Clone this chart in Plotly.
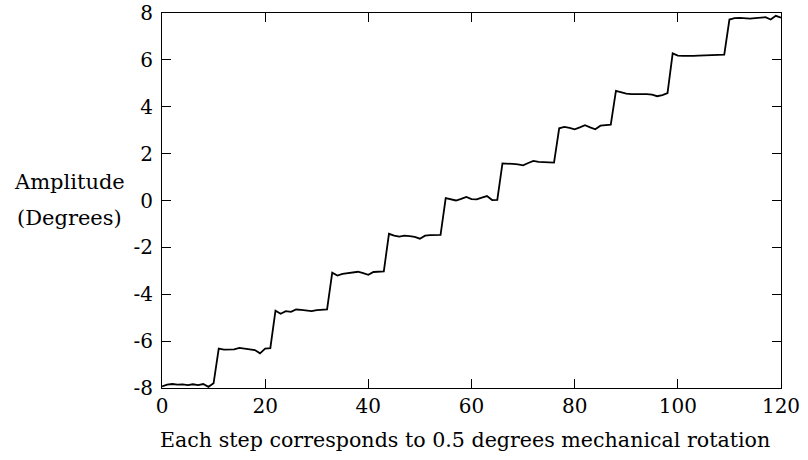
import plotly.graph_objects as go

x_steps = list(range(0, 121))
amplitude = [
    -7.93, -7.86, -7.83, -7.86, -7.85, -7.88, -7.84, -7.88, -7.83, -7.95, -7.80,
    -6.32, -6.36, -6.37, -6.35, -6.29, -6.32, -6.33, -6.38, -6.52, -6.32, -6.30,
    -4.70, -4.83, -4.72, -4.75, -4.65, -4.67, -4.70, -4.72, -4.68, -4.66, -4.65,
    -3.08, -3.20, -3.13, -3.10, -3.06, -3.04, -3.10, -3.17, -3.05, -3.04, -3.02,
    -1.42, -1.50, -1.54, -1.50, -1.52, -1.55, -1.63, -1.50, -1.48, -1.48, -1.47,
    0.10, 0.05, 0.00, 0.07, 0.15, 0.06, 0.05, 0.12, 0.19, 0.02, 0.03,
    1.58, 1.58, 1.56, 1.54, 1.50, 1.60, 1.69, 1.65, 1.63, 1.62, 1.62,
    3.08, 3.14, 3.10, 3.04, 3.12, 3.21, 3.12, 3.04, 3.19, 3.22, 3.24,
    4.68, 4.62, 4.56, 4.54, 4.55, 4.56, 4.54, 4.52, 4.45, 4.50, 4.58,
    6.28, 6.18, 6.17, 6.16, 6.17, 6.18, 6.19, 6.20, 6.20, 6.21, 6.22,
    7.72, 7.78, 7.79, 7.77, 7.76, 7.78, 7.80, 7.82, 7.72, 7.88, 7.80,
]

x_tick_vals = [0, 20, 40, 60, 80, 100, 120]
x_tick_text = ["0", "20", "40", "60", "80", "100", "120"]
y_tick_vals = [-8, -6, -4, -2, 0, 2, 4, 6, 8]
y_tick_text = ["-8", "-6", "-4", "-2", "0", "2", "4", "6", "8"]

x_title = "Each step corresponds to 0.5 degrees mechanical rotation"
y_title_lines = ["Amplitude", "(Degrees)"]

FONT = "DejaVu Serif"

fig = go.Figure()
fig.add_trace(go.Scatter(
    x=x_steps, y=amplitude, mode="lines",
    line=dict(color="black", width=1.8),
    showlegend=False, hoverinfo="skip",
))

axis_common = dict(
    showgrid=False, zeroline=False, automargin=False,
    showline=True, linecolor="black", linewidth=1.2, mirror="ticks",
    ticks="inside", ticklen=9, tickwidth=1, tickcolor="black",
    tickfont=dict(family=FONT, size=20, color="black"),
    ticklabeloverflow="allow",
)

fig.update_xaxes(
    range=[0, 120], tickvals=x_tick_vals, ticktext=x_tick_text,
    **axis_common,
)
fig.update_yaxes(
    range=[-8, 8], tickvals=y_tick_vals, ticktext=y_tick_text,
    ticklabelstandoff=4,
    **axis_common,
)

for line_text, ypos in zip(y_title_lines, [0.549, 0.453]):
    fig.add_annotation(
        text=line_text, xref="paper", yref="paper", x=-0.150, y=ypos,
        showarrow=False, xanchor="center", yanchor="middle",
        font=dict(family=FONT, size=21, color="black"),
    )
fig.add_annotation(
    text=x_title, xref="paper", yref="paper", x=0.49, y=-0.1,
    showarrow=False, xanchor="center", yanchor="top",
    font=dict(family=FONT, size=20.6, color="black"),
)

fig.update_layout(
    width=808, height=460,
    margin=dict(l=162, r=27, t=13, b=72),
    paper_bgcolor="white", plot_bgcolor="white",
    font=dict(family=FONT, color="black"),
)

fig.write_html(
    "out.html",
    config={"displayModeBar": False},
    post_script="document.body.style.margin='0px';document.body.style.padding='0px';",
)
